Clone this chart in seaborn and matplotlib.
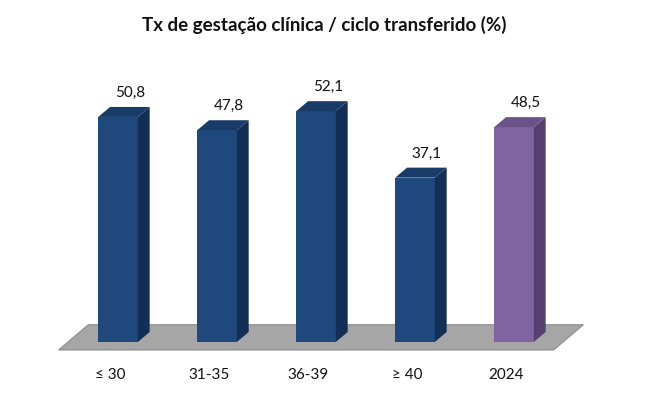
import matplotlib
matplotlib.use("Agg")
import matplotlib.pyplot as plt
import matplotlib.transforms as mtransforms
from matplotlib.patches import Polygon
import seaborn as sns

# data
categories = ["≤ 30", "31-35", "36-39", "≥ 40", "2024"]
values = [50.8, 47.8, 52.1, 37.1, 48.5]
labels = ["50,8", "47,8", "52,1", "37,1", "48,5"]

front_colors = ["#1f497d", "#1f497d", "#1f497d", "#1f497d", "#8064a2"]
side_colors = ["#142f55", "#142f55", "#142f55", "#142f55", "#56406f"]
top_colors = ["#193b67", "#193b67", "#193b67", "#193b67", "#6a5389"]

sns.set_theme(style="white")
plt.rcParams["font.family"] = ["Lato", "DejaVu Sans"]

fig = plt.figure(figsize=(6.49, 3.95), dpi=100)
ax = fig.add_axes([68.5 / 649, 53 / 395, 495 / 649, 265.8 / 395])

sns.barplot(x=categories, y=values, hue=categories, palette=front_colors,
            order=categories, width=0.4, saturation=1, linewidth=0,
            legend=False, ax=ax, zorder=3)
ax.set_xlim(-0.5, 4.5)
ax.set_ylim(0, 60)

# depth of the fake 3d boxes, in data units
dx, dy = 0.12, 2.26

bars = sorted(ax.patches, key=lambda p: p.get_x())

# grey floor under the bars
x_left = bars[0].get_x() - 0.4
x_right = bars[-1].get_x() + bars[-1].get_width() + 0.2
f_front, f_back, f_shift = -1.8, 3.9, 0.3
floor = Polygon([(x_left, f_front), (x_right, f_front),
                 (x_right + f_shift, f_back), (x_left + f_shift, f_back)],
                closed=True, facecolor="#a6a6a6", edgecolor="#8c8c8c",
                linewidth=0.8, clip_on=False, zorder=1)
ax.add_patch(floor)

for bar, side, top, lab in zip(bars, side_colors, top_colors, labels):
    x0 = bar.get_x()
    x1 = x0 + bar.get_width()
    h = bar.get_height()
    ax.add_patch(Polygon([(x1, 0), (x1 + dx, dy), (x1 + dx, h + dy), (x1, h)],
                         closed=True, facecolor=side, linewidth=0,
                         clip_on=False, zorder=3))
    ax.add_patch(Polygon([(x0, h), (x1, h), (x1 + dx, h + dy), (x0 + dx, h + dy)],
                         closed=True, facecolor=top, linewidth=0,
                         clip_on=False, zorder=3))
    ax.annotate(lab, (x0 + bar.get_width() / 2 + dx, h + dy),
                xytext=(0, 5), textcoords="offset points",
                ha="center", va="bottom", fontsize=11, color="#111111",
                annotation_clip=False)

ax.set_yticks([])
ax.set_xlabel("")
ax.set_ylabel("")
sns.despine(ax=ax, left=True, bottom=True)
ax.tick_params(axis="x", length=0, pad=19, labelsize=11, labelcolor="#111111")
shift = mtransforms.ScaledTranslation(-8 / 100, 0, fig.dpi_scale_trans)
for t in ax.get_xticklabels():
    t.set_transform(t.get_transform() + shift)

fig.text(0.5, 1 - 25 / 395, "Tx de gestação clínica / ciclo transferido (%)",
         ha="center", va="center", fontsize=13.5, fontweight="bold", color="#111111")

fig.savefig("out.png", dpi=100, facecolor="white")
